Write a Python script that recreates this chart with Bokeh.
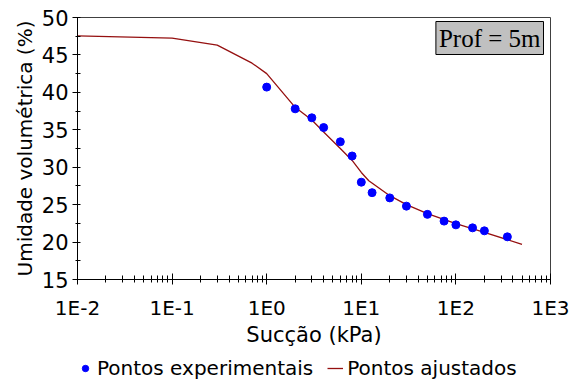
from bokeh.plotting import figure
from bokeh.layouts import column
from bokeh.models import (FixedTicker, CustomJSTickFormatter, Legend, LegendItem, Label)
from bokeh.embed import file_html
from bokeh.resources import INLINE

# Experimental points
psi_exp = [1, 2, 3, 4, 6, 8, 10, 13, 20, 30, 50, 75, 100, 150, 200, 350]
theta_exp = [40.7, 37.8, 36.6, 35.3, 33.4, 31.5, 28.0, 26.6, 25.9, 24.8, 23.7, 22.8, 22.3, 21.9, 21.5, 20.7]

# Fitted curve
psi_fit = [0.01, 0.1, 0.3, 0.7, 1, 2, 3, 4, 6, 8, 10, 12, 20, 30, 50, 100, 200, 500]
theta_fit = [47.55, 47.25, 46.3, 43.9, 42.5, 38.0, 36.3, 34.7, 32.5, 30.9, 29.3, 28.2, 26.2, 25.0, 23.8, 22.45, 21.3, 19.7]

xticks = [0.01, 0.1, 1, 10, 100, 1000]
xtick_labels = ["1E-2", "1E-1", "1E0", "1E1", "1E2", "1E3"]
yticks = [15, 20, 25, 30, 35, 40, 45, 50]

FONT = "DejaVu Sans"
EXP_COLOR = "#0000ff"
FIT_COLOR = "#951010"

p = figure(width=583, height=351, x_axis_type="log", x_range=(0.01, 1000), y_range=(15, 50),
           output_backend="svg", toolbar_location=None,
           min_border_left=77, min_border_right=33, min_border_top=17, min_border_bottom=72)

p.xgrid.visible = False
p.ygrid.visible = False
p.outline_line_color = "#404040"
p.background_fill_color = "white"
p.border_fill_color = "white"

xminor = [m * t for t in xticks[:-1] for m in range(2, 10)]
p.xaxis.ticker = FixedTicker(ticks=xticks, minor_ticks=xminor)
p.xaxis.formatter = CustomJSTickFormatter(args=dict(tvals=xticks, tlabels=xtick_labels), code="""
let best = 0, bd = 1e9;
for (let i = 0; i < tvals.length; i++) {
  const d = Math.abs(Math.log10(tick) - Math.log10(tvals[i]));
  if (d < bd) { bd = d; best = i; }
}
return tlabels[best];
""")
yminor = [v + 2.5 for v in yticks[:-1]]
p.yaxis.ticker = FixedTicker(ticks=yticks, minor_ticks=yminor)

for ax in (p.xaxis[0], p.yaxis[0]):
    ax.axis_line_color = "black"
    ax.major_tick_line_color = "black"
    ax.minor_tick_line_color = "black"
    ax.major_label_text_font = FONT
    ax.major_label_text_color = "black"
    ax.axis_label_text_font = FONT
    ax.axis_label_text_font_style = "normal"
    ax.axis_label_text_color = "black"

p.xaxis.major_tick_in = 6
p.xaxis.major_tick_out = 5
p.xaxis.minor_tick_in = 4
p.xaxis.minor_tick_out = 3
p.xaxis.major_label_text_font_size = "20px"
p.xaxis.major_label_standoff = 11
p.xaxis.axis_label = "Sucção (kPa)"
p.xaxis.axis_label_text_font_size = "21px"
p.xaxis.axis_label_standoff = 0

p.yaxis.major_tick_in = 3
p.yaxis.major_tick_out = 5
p.yaxis.minor_tick_in = 3
p.yaxis.minor_tick_out = 2
p.yaxis.major_label_text_font_size = "21px"
p.yaxis.major_label_standoff = 4
p.yaxis.axis_label = "Umidade volumétrica (%)"
p.yaxis.axis_label_text_font_size = "20px"
p.yaxis.axis_label_standoff = 2

p.line(psi_fit, theta_fit, line_color=FIT_COLOR, line_width=1.3)
p.scatter(psi_exp, theta_exp, marker="circle", size=8, fill_color=EXP_COLOR, line_color=EXP_COLOR)

lab = Label(x=1000, y=50, text="Prof = 5m", text_align="right", text_baseline="top",
            x_offset=-7, y_offset=-4, text_font="Liberation Serif", text_font_size="25px",
            text_color="black", background_fill_color="#c0c0c0", border_line_color="black",
            border_line_width=1, padding=3)
p.add_layout(lab)

# Legend strip below the chart (its renderers' data lie outside this strip's ranges)
p2 = figure(width=583, height=30, x_range=(0, 1), y_range=(0, 1),
            output_backend="svg", toolbar_location=None,
            x_axis_location=None, y_axis_location=None, min_border=0)
p2.outline_line_color = None
p2.xgrid.visible = False
p2.ygrid.visible = False
p2.border_fill_color = "white"
l_exp = p2.scatter(psi_exp[:1], theta_exp[:1], marker="circle", size=8,
                   fill_color=EXP_COLOR, line_color=EXP_COLOR)
l_fit = p2.line(psi_fit[:2], theta_fit[:2], line_color=FIT_COLOR, line_width=1.3)

legend = Legend(items=[LegendItem(label="Pontos experimentais", renderers=[l_exp]),
                       LegendItem(label="Pontos ajustados", renderers=[l_fit])],
                orientation="horizontal", location=(0, 1),
                border_line_color=None, background_fill_alpha=0,
                label_text_font=FONT, label_text_font_size="20px", label_text_color="black",
                glyph_width=16, glyph_height=16, label_standoff=4, spacing=14,
                padding=2, margin=0)
p2.add_layout(legend)

layout = column(p, p2)
open("out.html", "w").write(file_html(layout, INLINE))
